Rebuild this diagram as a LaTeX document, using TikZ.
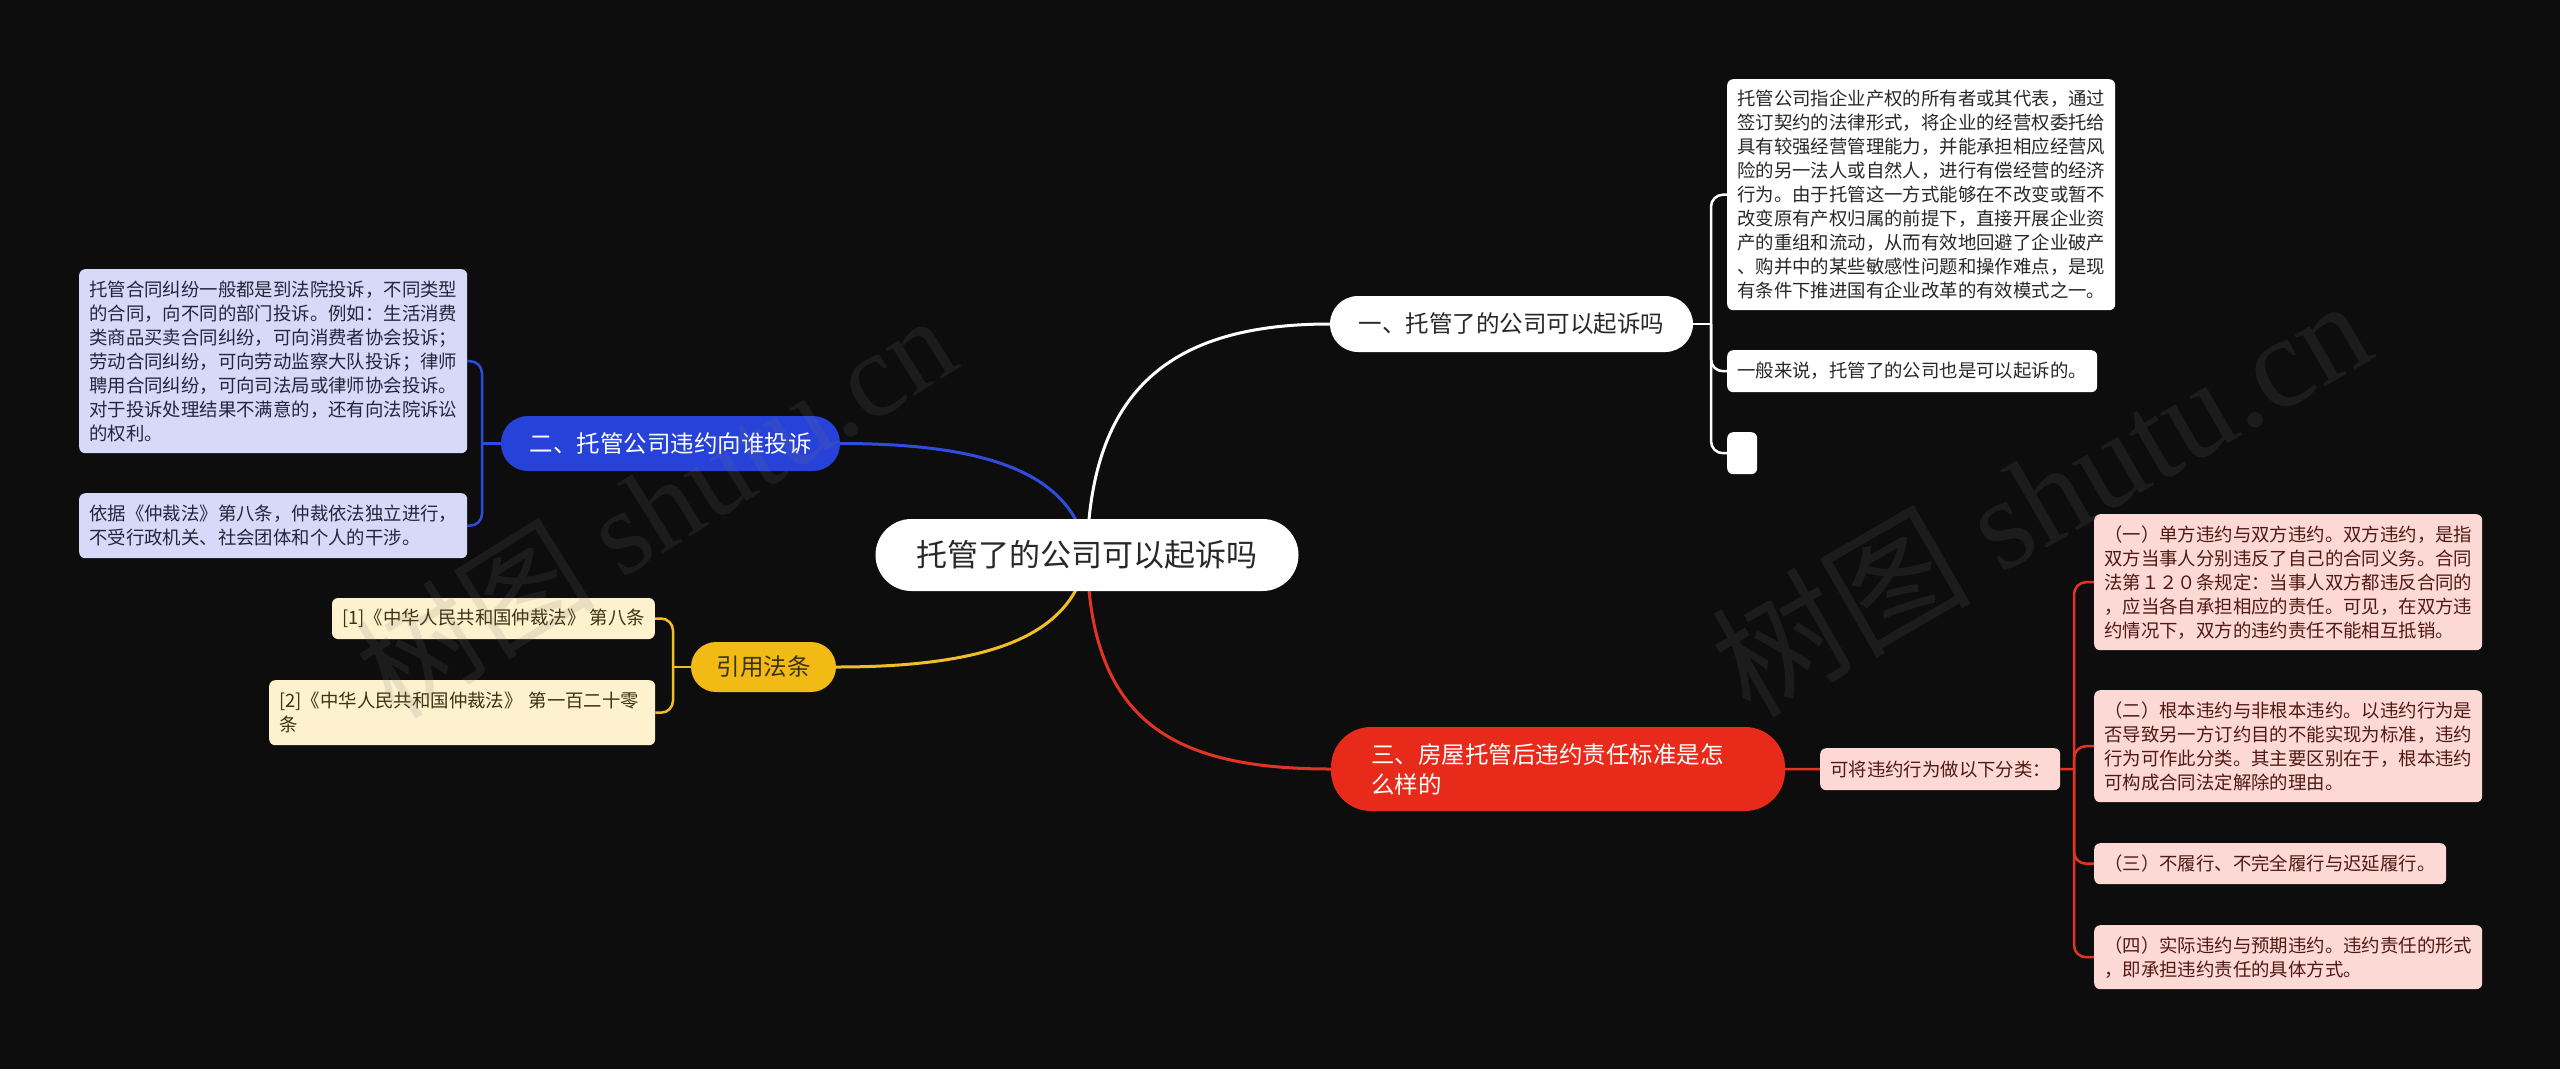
\documentclass[tikz,border=0pt]{standalone}
\usepackage{fontspec}
\setmainfont{Noto Sans CJK SC}
\newfontfamily\wmlatin{Liberation Serif}
\pgfdeclarelayer{back}
\pgfdeclarelayer{edges}
\pgfdeclarelayer{front}
\pgfsetlayers{back,edges,main,front}
\definecolor{bgc}{RGB}{13,13,13}
\definecolor{bluec}{RGB}{38,66,216}
\definecolor{bluel}{RGB}{48,76,222}
\definecolor{redc}{RGB}{232,42,26}
\definecolor{redl}{RGB}{226,52,36}
\definecolor{yelc}{RGB}{241,186,20}
\definecolor{yell}{RGB}{240,190,40}
\definecolor{lavc}{RGB}{214,218,248}
\definecolor{crec}{RGB}{253,242,205}
\definecolor{pinkc}{RGB}{253,217,214}
\definecolor{darkt}{RGB}{40,40,40}
\definecolor{lavt}{RGB}{35,38,60}
\definecolor{cret}{RGB}{60,50,20}
\definecolor{pinkt}{RGB}{80,25,20}
\definecolor{wmc}{RGB}{120,120,120}
\tikzset{
  central/.style={fill=white, text=darkt, rounded corners=36pt, inner sep=0pt,
    minimum width=423pt, minimum height=72pt, font=\fontsize{31}{36}\selectfont},
  branch/.style={rounded corners=27pt, inner sep=0pt, minimum height=55pt,
    font=\fontsize{23.5}{30}\selectfont},
  sbox/.style={rounded corners=6pt, inner xsep=10pt, inner ysep=0pt, align=left,
    font=\fontsize{18.4}{24}\selectfont},
  wbox/.style={sbox, fill=white, text=darkt},
  lbox/.style={sbox, fill=lavc, text=lavt},
  cbox/.style={sbox, fill=crec, text=cret},
  pbox/.style={sbox, fill=pinkc, text=pinkt},
  mainline/.style={line width=3pt},
  brline/.style={line width=2.5pt, rounded corners=12pt},
  wmark/.style={text=wmc, opacity=0.15, inner sep=0pt, font=\fontsize{120}{130}\selectfont}
}
\begin{document}
\begin{tikzpicture}[x=1pt,y=-1pt]
\begin{pgfonlayer}{back}
\fill[bgc] (0,0) rectangle (2560,1069);
\end{pgfonlayer}
\useasboundingbox (0,0) rectangle (2560,1069);

% central
\node[central] (c) at (1087,555) {托管了的公司可以起诉吗};

% branches
\node[branch, fill=white, text=darkt, minimum width=363pt, minimum height=56pt, rounded corners=28pt] (b1) at (1511.5,324) {一、托管了的公司可以起诉吗};
\node[branch, fill=bluec, text=white, minimum width=339pt] (b2) at (670.5,443.5) {二、托管公司违约向谁投诉};
\node[branch, fill=yelc, text=cret, minimum width=145pt, minimum height=50pt, rounded corners=25pt] (b3) at (763.5,667) {引用法条};
\node[branch, fill=redc, text=white, inner xsep=40pt, text width=374pt, align=left, minimum height=84pt, rounded corners=40pt] (b4) at (1558,769) {三、房屋托管后违约责任标准是怎\\么样的};

% branch 1 children
\node[wbox, anchor=north west, text width=368pt, minimum height=231pt] (t1) at (1727,79) {托管公司指企业产权的所有者或其代表，通过\\
签订契约的法律形式，将企业的经营权委托给\\
具有较强经营管理能力，并能承担相应经营风\\
险的另一法人或自然人，进行有偿经营的经济\\
行为。由于托管这一方式能够在不改变或暂不\\
改变原有产权归属的前提下，直接开展企业资\\
产的重组和流动，从而有效地回避了企业破产\\
、购并中的某些敏感性问题和操作难点，是现\\
有条件下推进国有企业改革的有效模式之一。};
\node[wbox, anchor=north west, text width=350pt, minimum height=42pt] (t2) at (1727,350) {一般来说，托管了的公司也是可以起诉的。};
\node[fill=white, rounded corners=6pt, inner sep=0pt, anchor=north west, minimum width=30pt, minimum height=42pt] (t3) at (1727,432) {};

% branch 2 children
\node[lbox, anchor=north west, text width=368pt, minimum height=184pt] (l1) at (79,269) {托管合同纠纷一般都是到法院投诉，不同类型\\
的合同，向不同的部门投诉。例如：生活消费\\
类商品买卖合同纠纷，可向消费者协会投诉；\\
劳动合同纠纷，可向劳动监察大队投诉；律师\\
聘用合同纠纷，可向司法局或律师协会投诉。\\
对于投诉处理结果不满意的，还有向法院诉讼\\
的权利。};
\node[lbox, anchor=north west, text width=368pt, minimum height=65pt] (l2) at (79,493) {依据《仲裁法》第八条，仲裁依法独立进行，\\
不受行政机关、社会团体和个人的干涉。};

% branch 3 children
\node[cbox, anchor=east, minimum height=41pt] (r1) at (655,618.5) {[1]《中华人民共和国仲裁法》 第八条};
\node[cbox, anchor=north west, text width=366pt, minimum height=65pt] (r2) at (269,680) {[2]《中华人民共和国仲裁法》 第一百二十零\\条};

% branch 4 children
\node[pbox, anchor=north west, text width=220pt, minimum height=42pt] (s) at (1820,748) {可将违约行为做以下分类：};
\node[pbox, anchor=north west, text width=368pt, minimum height=136pt] (p1) at (2094,514) {（一）单方违约与双方违约。双方违约，是指\\
双方当事人分别违反了自己的合同义务。合同\\
法第１２０条规定：当事人双方都违反合同的\\
，应当各自承担相应的责任。可见，在双方违\\
约情况下，双方的违约责任不能相互抵销。};
\node[pbox, anchor=north west, text width=368pt, minimum height=112pt] (p2) at (2094,690) {（二）根本违约与非根本违约。以违约行为是\\
否导致另一方订约目的不能实现为标准，违约\\
行为可作此分类。其主要区别在于，根本违约\\
可构成合同法定解除的理由。};
\node[pbox, anchor=north west, text width=332pt, minimum height=41pt] (p3) at (2094,843) {（三）不履行、不完全履行与迟延履行。};
\node[pbox, anchor=north west, text width=368pt, minimum height=64pt] (p4) at (2094,925) {（四）实际违约与预期违约。违约责任的形式\\
，即承担违约责任的具体方式。};

% bracket points
\coordinate (k1) at (1711,324);
\coordinate (k2) at (482,443.5);
\coordinate (k3) at (673,667);
\coordinate (k4) at (2074,769);

\begin{pgfonlayer}{edges}
\draw[mainline, white] (c.center) .. controls (1090,390) and (1170,324) .. (b1.west);
\draw[mainline, bluel] (c.center) .. controls (1075,470) and (980,443.5) .. (b2.east);
\draw[mainline, yell] (c.center) .. controls (1075,640) and (980,667) .. (b3.east);
\draw[mainline, redl] (c.center) .. controls (1090,720) and (1170,769) .. (b4.west);

\draw[brline, white] (b1.east) -- (k1);
\draw[brline, white] (k1) |- (t1.west);
\draw[brline, white] (k1) |- (t2.west);
\draw[brline, white] (k1) |- (t3.west);

\draw[brline, bluel] (b2.west) -- (k2);
\draw[brline, bluel] (k2) |- (l1.east);
\draw[brline, bluel] (k2) |- (l2.east);

\draw[brline, yell] (b3.west) -- (k3);
\draw[brline, yell] (k3) |- (r1.east);
\draw[brline, yell] (k3) |- (r2.east);

\draw[brline, redl] (b4.east) -- (s.west);
\draw[brline, redl] (s.east) -- (k4);
\draw[brline, redl] (k4) |- (p1.west);
\draw[brline, redl] (k4) |- (p2.west);
\draw[brline, redl] (k4) |- (p3.west);
\draw[brline, redl] (k4) |- (p4.west);
\end{pgfonlayer}

\begin{pgfonlayer}{front}
\node[wmark, rotate=32] (wm1) at (655,505) {树图 {\wmlatin shutu.cn}};
\node[wmark, rotate=30, font=\fontsize{130}{140}\selectfont] (wm2) at (2040,495) {树图 {\wmlatin shutu.cn}};
\end{pgfonlayer}
\end{tikzpicture}
\end{document}
